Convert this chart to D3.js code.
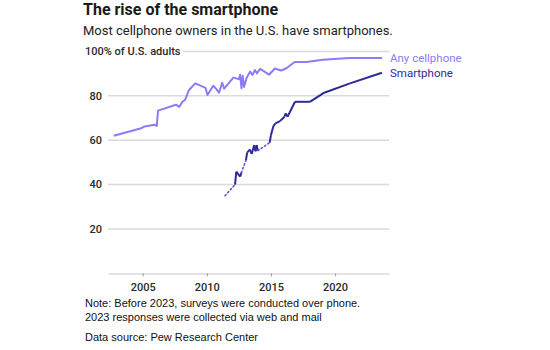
<!DOCTYPE html>
<html>
<head>
<meta charset="utf-8">
<script src="https://cdn.jsdelivr.net/npm/d3@7"></script>
<style>
  body { margin: 0; background: #fff; }
  svg { font-family: Roboto, "Liberation Sans", sans-serif; }
</style>
</head>
<body>
<div id="chart"></div>
<script>
// Any cellphone ownership (% of U.S. adults), [year, value]
const cellYears = [2002.75, 2004.9, 2005.15, 2005.93, 2006.1, 2006.2, 2007.6, 2007.85, 2008.1, 2008.3,
  2008.6, 2009.1, 2009.9, 2010.05, 2010.5, 2010.75, 2010.95, 2011.2, 2011.35, 2012.07,
  2012.5, 2012.6, 2012.7, 2012.8, 2012.9, 2013.1, 2013.37, 2013.55, 2013.76, 2013.9,
  2014.15, 2014.4, 2014.85, 2015.3, 2015.8, 2016.2, 2016.85, 2017.75, 2019.05, 2021.1, 2023.65];
const cellValues = [62, 65.4, 66.2, 67, 66.4, 73.3, 76, 75, 77.3, 78.1,
  82.5, 85.6, 83.6, 80.4, 84.5, 83, 81.4, 85.9, 83.2, 88.2,
  87.5, 89.5, 83.4, 89, 84, 88, 90.9, 89.4, 91.6, 90.1,
  92.1, 91.2, 89.5, 92.3, 91.4, 92.4, 95.2, 95.2, 96.2, 97, 97];

// Smartphone ownership
const smartYears = [2011.42, 2012.2, 2012.3, 2012.6, 2012.7, 2013.05, 2013.15, 2013.37, 2013.5, 2013.7,
  2013.8, 2013.88, 2013.98, 2014.9, 2015.0, 2015.2, 2015.35, 2015.7, 2016.05, 2016.15,
  2016.3, 2016.87, 2018.03, 2019.15, 2021.1, 2023.65];
const smartValues = [35, 40, 45.8, 43.6, 45.4, 51, 54.5, 55.8, 53.8, 57.8,
  55, 57.8, 55.3, 58.9, 62.3, 66.5, 67.6, 68.6, 70.6, 72.1,
  70.6, 77.3, 77.3, 81.4, 85.5, 90.4];
// smartphone segments that bridge a gap between surveys (start year of segment)
const smartGaps = [2011.42, 2012.7, 2013.98];

const yTicks = [20, 40, 60, 80];
const xTicks = [2005, 2010, 2015, 2020];

const width = 550, height = 350;

const svg = d3.select("#chart")
  .append("svg")
  .attr("width", width)
  .attr("height", height);

const x = d3.scaleLinear().domain([2002.3, 2024.2]).range([108, 389]);
const y = d3.scaleLinear().domain([0, 100]).range([273.4, 51.4]);

// titles
svg.append("text")
  .attr("x", 83).attr("y", 15)
  .attr("font-size", "16px").attr("font-weight", "bold")
  .attr("fill", "#1a1a1a")
  .text("The rise of the smartphone");

svg.append("text")
  .attr("x", 83).attr("y", 35)
  .attr("font-size", "13px")
  .attr("fill", "#222")
  .text("Most cellphone owners in the U.S. have smartphones.");

// gridlines
svg.append("g")
  .selectAll("line")
  .data(yTicks.concat([100]))
  .enter().append("line")
  .attr("x1", x.range()[0]).attr("x2", x.range()[1])
  .attr("y1", d => y(d)).attr("y2", d => y(d))
  .attr("stroke", "#dadada")
  .attr("stroke-width", 1.5);

// y tick labels
svg.append("g")
  .selectAll("text")
  .data(yTicks)
  .enter().append("text")
  .attr("x", 102)
  .attr("y", d => y(d))
  .attr("dy", "0.35em")
  .attr("text-anchor", "end")
  .attr("font-size", "11px")
  .attr("font-weight", 500)
  .attr("fill", "#2a2a2a")
  .text(d => d);

svg.append("text")
  .attr("x", 85)
  .attr("y", y(100))
  .attr("dy", "0.35em")
  .attr("font-size", "11px")
  .attr("font-weight", 500)
  .attr("fill", "#2a2a2a")
  .attr("stroke", "#fff").attr("stroke-width", 5)
  .attr("paint-order", "stroke")
  .text("100% of U.S. adults");

// x axis
const xAxis = svg.append("g")
  .attr("transform", `translate(0,${y(0)})`)
  .call(d3.axisBottom(x).tickValues(xTicks).tickFormat(d3.format("d"))
    .tickSize(3).tickSizeOuter(0).tickPadding(7));
xAxis.select(".domain").attr("stroke", "#dadada").attr("stroke-width", 1.5);
xAxis.selectAll(".tick line").attr("stroke", "#999");
xAxis.selectAll("text")
  .attr("font-family", "Roboto, sans-serif")
  .attr("font-size", "11px")
  .attr("font-weight", 500)
  .attr("fill", "#2a2a2a");

// lines
const line = d3.line()
  .x(d => x(d[0]))
  .y(d => y(d[1]));

const cellData = cellYears.map((yr, i) => [yr, cellValues[i]]);
svg.append("path")
  .datum(cellData)
  .attr("fill", "none")
  .attr("stroke", "#8a7cf6")
  .attr("stroke-width", 2)
  .attr("stroke-linejoin", "round")
  .attr("d", line);

const smartData = smartYears.map((yr, i) => [yr, smartValues[i]]);
const segs = d3.pairs(smartData);
svg.append("g")
  .selectAll("path")
  .data(segs)
  .enter().append("path")
  .attr("fill", "none")
  .attr("stroke", d => smartGaps.includes(d[0][0]) ? "#5a55d0" : "#2d2a96")
  .attr("stroke-width", d => smartGaps.includes(d[0][0]) ? 1.6 : 2)
  .attr("stroke-dasharray", d => smartGaps.includes(d[0][0]) ? "1.5,2.5" : null)
  .attr("stroke-linecap", d => smartGaps.includes(d[0][0]) ? "round" : "butt")
  .attr("d", d => line(d));

// series labels
svg.append("text")
  .attr("x", 390).attr("y", y(cellValues[cellValues.length - 1]))
  .attr("dy", "0.35em")
  .attr("font-size", "11.5px")
  .attr("fill", "#8a7cf6")
  .text("Any cellphone");

svg.append("text")
  .attr("x", 390).attr("y", y(smartValues[smartValues.length - 1]))
  .attr("dy", "0.35em")
  .attr("font-size", "11.5px")
  .attr("fill", "#2d2a96")
  .text("Smartphone");

// notes
const notes = svg.append("g")
  .attr("font-family", "'Liberation Sans', Arial, sans-serif")
  .attr("font-size", "11px")
  .attr("fill", "#111");
notes.append("text").attr("x", 85).attr("y", 307)
  .text("Note: Before 2023, surveys were conducted over phone.");
notes.append("text").attr("x", 85).attr("y", 321)
  .text("2023 responses were collected via web and mail");
notes.append("text").attr("x", 85).attr("y", 341)
  .text("Data source: Pew Research Center");
</script>
</body>
</html>
